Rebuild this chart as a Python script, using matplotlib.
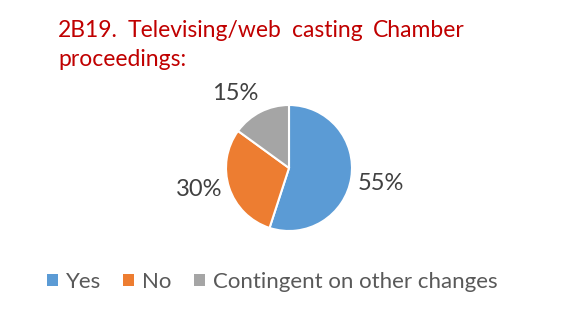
import matplotlib
matplotlib.use("Agg")
import matplotlib.pyplot as plt
from matplotlib.patches import Patch

plt.rcParams['font.family'] = ['Lato', 'DejaVu Sans']

labels = ['Yes', 'No', 'Contingent on other changes']
values = [55, 30, 15]
colors = ['#5B9BD5', '#ED7D31', '#A5A5A5']
title_line1 = ['2B19.', 'Televising/web', 'casting', 'Chamber']
title_line2 = 'proceedings:'

W, H = 576, 310
fig = plt.figure(figsize=(W / 100, H / 100), dpi=100)
fig.patch.set_facecolor('white')

# pie axes: centre about (289,168), radius ~63 px
r = 63
cx, cy = 289, 168
ax = fig.add_axes([(cx - r) / W, 1 - (cy + r) / H, 2 * r / W, 2 * r / H])
wedges, _ = ax.pie(values, colors=colors, startangle=90, counterclock=False,
                   wedgeprops=dict(edgecolor='white', linewidth=1.5))
ax.set_xlim(-1, 1)
ax.set_ylim(-1, 1)
ax.set_aspect('auto')

# percentage labels outside
label_pos = [(381, 184), (199, 190), (235, 94)]
for v, (px, py) in zip(values, label_pos):
    fig.text(px / W, 1 - py / H, f'{v}%', fontsize=17, color='#404040',
             ha='center', va='center')

# justified title line
red = '#C00000'
fig.canvas.draw()
renderer = fig.canvas.get_renderer()
left, right = 58, 465
texts = [fig.text(0, 1 - 37 / H, w, fontsize=16.5, color=red, va='baseline')
         for w in title_line1]
widths = [t.get_window_extent(renderer).width for t in texts]
gap = (right - left - sum(widths)) / (len(texts) - 1)
x = left
for t, w in zip(texts, widths):
    t.set_x(x / W)
    x += w + gap
fig.text(left / W, 1 - 66 / H, title_line2, fontsize=16.5, color=red, va='baseline')

handles = [Patch(facecolor=c, edgecolor='none') for c in colors]
leg = fig.legend(handles, labels, loc='center', bbox_to_anchor=(272 / W, 1 - 282 / H),
                 ncol=3, frameon=False, fontsize=16, handlelength=0.5, handleheight=0.5,
                 handletextpad=0.35, columnspacing=1.0)
for t in leg.get_texts():
    t.set_color('#595959')

fig.savefig('out.png', dpi=100, facecolor='white')
